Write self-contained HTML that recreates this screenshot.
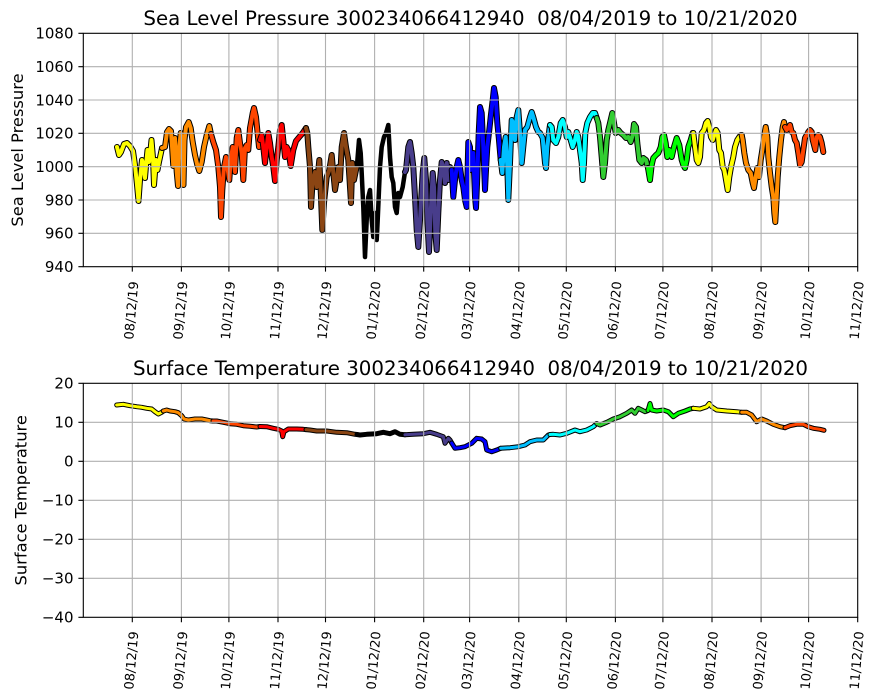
<!DOCTYPE html>
<html><head><meta charset="utf-8"><style>
html,body{margin:0;padding:0;background:#fff;}
svg{display:block;}
text{font-family:"DejaVu Sans","Liberation Sans",sans-serif;fill:#000;}
</style></head><body>
<svg width="876" height="700" viewBox="0 0 876 700" xmlns="http://www.w3.org/2000/svg">
<rect width="876" height="700" fill="#fff"/>

<!-- ===== TOP DATA: Sea Level Pressure ===== -->
<g fill="none" stroke-linejoin="round" stroke-linecap="round">
<polyline stroke="#000" stroke-width="6" points="117,147 119,155 121,152 124,144 127,143 130,146 133,151 135,165 137,185 138.5,201 140,180 142,160 143.5,165 145,178 146.5,160 147.5,150 149,162 150.5,150 151.5,140 153,158 154,185 156,160 157.5,170 159,162 160.5,155 162,148"/>
<polyline stroke="#ffff00" stroke-width="4" points="117,147 119,155 121,152 124,144 127,143 130,146 133,151 135,165 137,185 138.5,201 140,180 142,160 143.5,165 145,178 146.5,160 147.5,150 149,162 150.5,150 151.5,140 153,158 154,185 156,160 157.5,170 159,162 160.5,155 162,148"/>
<polyline stroke="#000" stroke-width="6" points="162,148 165,147 167,132 169,129 171,131 172,146 173.3,166 175,138 176.7,172 178,186 179.3,147 180.7,133 182.7,148 183.5,185 184.5,140 186,127 188.7,122 190.7,128 192.7,142 195,155 197.3,165 199.3,171 201.7,162 204,147 206.7,135 209.3,126 211,134"/>
<polyline stroke="#ff8c00" stroke-width="4" points="162,148 165,147 167,132 169,129 171,131 172,146 173.3,166 175,138 176.7,172 178,186 179.3,147 180.7,133 182.7,148 183.5,185 184.5,140 186,127 188.7,122 190.7,128 192.7,142 195,155 197.3,165 199.3,171 201.7,162 204,147 206.7,135 209.3,126 211,134"/>
<polyline stroke="#000" stroke-width="6" points="211,134 213.3,142 216,150 218.3,167 220,187 221,217 222.3,190 224,167 226,157 227.3,167 229.3,180 230.7,160 232.7,147 235,172 236.7,138 238.3,130 240,143 241.7,153 243.3,180 245,148 246.7,145 248.3,150 250,128 252.7,113 254,108 256,117 257.3,130 259,147 260,140"/>
<polyline stroke="#ff4500" stroke-width="4" points="211,134 213.3,142 216,150 218.3,167 220,187 221,217 222.3,190 224,167 226,157 227.3,167 229.3,180 230.7,160 232.7,147 235,172 236.7,138 238.3,130 240,143 241.7,153 243.3,180 245,148 246.7,145 248.3,150 250,128 252.7,113 254,108 256,117 257.3,130 259,147 260,140"/>
<polyline stroke="#000" stroke-width="6" points="260,140 261.7,135 263.3,147 265,163 266.7,147 268.3,133 270,143 271.7,157 273.3,167 275,181 276.7,160 278.3,147 280,130 281.7,125 283.3,140 285,157 286.7,147 288.3,150 290.7,166 293.3,150 296,141 299.3,137 302.7,133 306,128"/>
<polyline stroke="#ff0000" stroke-width="4" points="260,140 261.7,135 263.3,147 265,163 266.7,147 268.3,133 270,143 271.7,157 273.3,167 275,181 276.7,160 278.3,147 280,130 281.7,125 283.3,140 285,157 286.7,147 288.3,150 290.7,166 293.3,150 296,141 299.3,137 302.7,133 306,128"/>
<polyline stroke="#000" stroke-width="6" points="306,128 307.3,133 308.3,147 310,167 311,207 312.7,180 315,172 316.7,187 319.3,160 321,197 322.3,230 324,203 326.7,177 329.3,170 331.7,155 333.3,173 335,190 336.7,180 338.3,167 340,180 341.7,147 344,133 346,147 348.3,160 350,187 351,203 352.3,163 354,180 356,170 357,165"/>
<polyline stroke="#8b4513" stroke-width="4" points="306,128 307.3,133 308.3,147 310,167 311,207 312.7,180 315,172 316.7,187 319.3,160 321,197 322.3,230 324,203 326.7,177 329.3,170 331.7,155 333.3,173 335,190 336.7,180 338.3,167 340,180 341.7,147 344,133 346,147 348.3,160 350,187 351,203 352.3,163 354,180 356,170 357,165"/>
<polyline stroke="#000" stroke-width="4.5" points="357,165 359,140 360.7,153 361.7,173 363.3,207 365,257 366.7,220 368.3,197 370,190 371.7,220 373.3,237 375,213 376.7,240 377.7,220 379,190 380,167 381.7,147 384,137 386,133 388.3,125 390,157 391.7,177 393.3,183 395,207 396.7,213 398.3,193 400,197 402.7,187 405,172"/>
<polyline stroke="#000" stroke-width="6" points="405,172 406,170 408.3,147 410,142 411.7,153 413.3,167 415,197 416.7,230 418.3,247 420,220 422.7,173 424.3,158 426,180 427.3,220 429,252 430.7,213 432.7,173 434,187 435.3,233 436.7,250 438.3,213 440,180 441.7,162 443.3,167 445,183 446.7,163 448.3,180 450,167 451.7,170"/>
<polyline stroke="#483d8b" stroke-width="4" points="405,172 406,170 408.3,147 410,142 411.7,153 413.3,167 415,197 416.7,230 418.3,247 420,220 422.7,173 424.3,158 426,180 427.3,220 429,252 430.7,213 432.7,173 434,187 435.3,233 436.7,250 438.3,213 440,180 441.7,162 443.3,167 445,183 446.7,163 448.3,180 450,167 451.7,170"/>
<polyline stroke="#000" stroke-width="6" points="451.7,170 453.3,197 455,180 456.7,167 458.3,160 460,167 461.7,180 463.3,187 465,200 466.7,207 468.3,142 470,147 470.7,170 471.7,167 473.3,153 475,197 476,208 477.3,177 478.7,133 480,107 481.7,113 483.3,147 485,190 486,170 487.3,147 489.3,130 490.7,117 492.7,100 494,88 495.7,97 497.3,123 498.7,137 500.7,160"/>
<polyline stroke="#0000ff" stroke-width="4" points="451.7,170 453.3,197 455,180 456.7,167 458.3,160 460,167 461.7,180 463.3,187 465,200 466.7,207 468.3,142 470,147 470.7,170 471.7,167 473.3,153 475,197 476,208 477.3,177 478.7,133 480,107 481.7,113 483.3,147 485,190 486,170 487.3,147 489.3,130 490.7,117 492.7,100 494,88 495.7,97 497.3,123 498.7,137 500.7,160"/>
<polyline stroke="#000" stroke-width="6" points="500.7,160 502.3,173 504,147 505.7,137 507.3,167 508.3,200 510,163 511.7,120 513.3,123 515,140 516.7,117 518.3,110 520,133 521.7,163 523.3,147 525,130 527.3,127 530,117 531.7,112 533.3,117 536,127 538.3,132 540,133 542.7,138 545,163 546,168 547.3,147 549.3,130 550,125"/>
<polyline stroke="#00bfff" stroke-width="4" points="500.7,160 502.3,173 504,147 505.7,137 507.3,167 508.3,200 510,163 511.7,120 513.3,123 515,140 516.7,117 518.3,110 520,133 521.7,163 523.3,147 525,130 527.3,127 530,117 531.7,112 533.3,117 536,127 538.3,132 540,133 542.7,138 545,163 546,168 547.3,147 549.3,130 550,125"/>
<polyline stroke="#000" stroke-width="6" points="550,125 551.7,127 553.3,140 556,143 558.3,137 560.7,123 562.7,120 565,127 566.7,137 568.3,132 570.7,140 572.7,147 575,140 576.7,132 578.3,137 580,150 581.7,163 582.7,180 584,163 585.3,133 587.3,123 590,117 592.7,113 595,113 596.7,118"/>
<polyline stroke="#00ffff" stroke-width="4" points="550,125 551.7,127 553.3,140 556,143 558.3,137 560.7,123 562.7,120 565,127 566.7,137 568.3,132 570.7,140 572.7,147 575,140 576.7,132 578.3,137 580,150 581.7,163 582.7,180 584,163 585.3,133 587.3,123 590,117 592.7,113 595,113 596.7,118"/>
<polyline stroke="#000" stroke-width="6" points="596.7,118 598.3,123 600,137 601.7,157 603.3,177 605,163 606.7,140 608.3,130 610,123 612.3,113 614,123 615.7,133 618.3,130 620.7,133 623.3,135 626,138 628.3,137 630.7,142 632.7,135 634,124 636,127 637.3,143 639.3,160 641.7,163 643.3,158 646,160 648,168"/>
<polyline stroke="#32cd32" stroke-width="4" points="596.7,118 598.3,123 600,137 601.7,157 603.3,177 605,163 606.7,140 608.3,130 610,123 612.3,113 614,123 615.7,133 618.3,130 620.7,133 623.3,135 626,138 628.3,137 630.7,142 632.7,135 634,124 636,127 637.3,143 639.3,160 641.7,163 643.3,158 646,160 648,168"/>
<polyline stroke="#000" stroke-width="6" points="648,168 650,180 651.7,165 653.3,158 656,155 658.3,153 660.7,147 662.3,137 664,135 665.7,143 667.3,157 669.3,150 671.7,157 674,147 676.7,138 679.3,145 681.7,160 683.3,165 685,168 686.7,160 688.3,147 690.7,140 692.7,133 693.3,133"/>
<polyline stroke="#00ff00" stroke-width="4" points="648,168 650,180 651.7,165 653.3,158 656,155 658.3,153 660.7,147 662.3,137 664,135 665.7,143 667.3,157 669.3,150 671.7,157 674,147 676.7,138 679.3,145 681.7,160 683.3,165 685,168 686.7,160 688.3,147 690.7,140 692.7,133 693.3,133"/>
<polyline stroke="#000" stroke-width="6" points="693.3,133 695,147 696.7,160 698.3,163 700,157 701.7,133 704,130 706,123 707.7,121 709.3,127 711,137 712.7,140 714.3,135 716,130 717.7,133 719.3,150 721,153 722.7,167 724.3,170 726,180 727.7,190 729.3,177 731,167 733.3,157 735,147 737.3,140 739.3,137 741,135 741.7,135"/>
<polyline stroke="#ffff00" stroke-width="4" points="693.3,133 695,147 696.7,160 698.3,163 700,157 701.7,133 704,130 706,123 707.7,121 709.3,127 711,137 712.7,140 714.3,135 716,130 717.7,133 719.3,150 721,153 722.7,167 724.3,170 726,180 727.7,190 729.3,177 731,167 733.3,157 735,147 737.3,140 739.3,137 741,135 741.7,135"/>
<polyline stroke="#000" stroke-width="6" points="741.7,135 742.7,140 744.3,153 746,163 748.3,170 750.7,173 752.7,183 754,188 755.7,177 757.3,168 759,177 760.7,160 762.3,150 764,137 765.7,127 767.3,137 768.3,157 770,173 771.7,187 773.3,197 774.3,213 775.3,222 776.7,197 777.7,177 779.3,157 781,140 782.7,127 784,122 785,127"/>
<polyline stroke="#ff8c00" stroke-width="4" points="741.7,135 742.7,140 744.3,153 746,163 748.3,170 750.7,173 752.7,183 754,188 755.7,177 757.3,168 759,177 760.7,160 762.3,150 764,137 765.7,127 767.3,137 768.3,157 770,173 771.7,187 773.3,197 774.3,213 775.3,222 776.7,197 777.7,177 779.3,157 781,140 782.7,127 784,122 785,127"/>
<polyline stroke="#000" stroke-width="6" points="785,127 786.7,130 788.3,128 790,125 791.7,132 793.3,133 795,140 796.7,143 798.3,153 800,165 801.7,162 803.3,150 805,138 806.7,135 808.3,132 810,130 811.7,132 812.7,140 814,145 815.3,150 816.7,137 818.3,135 820,137 821.7,143 823.3,152"/>
<polyline stroke="#ff4500" stroke-width="4" points="785,127 786.7,130 788.3,128 790,125 791.7,132 793.3,133 795,140 796.7,143 798.3,153 800,165 801.7,162 803.3,150 805,138 806.7,135 808.3,132 810,130 811.7,132 812.7,140 814,145 815.3,150 816.7,137 818.3,135 820,137 821.7,143 823.3,152"/>
</g>

<!-- ===== BOTTOM DATA: Surface Temperature ===== -->
<g fill="none" stroke-linejoin="round" stroke-linecap="round">
<polyline stroke="#000" stroke-width="5" points="116.7,405 123.3,404.3 130,405.7 136.7,406.7 141.7,407.3 146.7,408.3 151.7,409 155,411.7 158.3,414 161.7,412.3 163.3,411"/>
<polyline stroke="#ffff00" stroke-width="3" points="116.7,405 123.3,404.3 130,405.7 136.7,406.7 141.7,407.3 146.7,408.3 151.7,409 155,411.7 158.3,414 161.7,412.3 163.3,411"/>
<polyline stroke="#000" stroke-width="5" points="163.3,411 166.7,410 170,411 175,411.7 178.3,412.7 181.7,415.7 184,419 188.3,420 195,419 201.7,419 206.7,420 210,420.7 213,421"/>
<polyline stroke="#ff8c00" stroke-width="3" points="163.3,411 166.7,410 170,411 175,411.7 178.3,412.7 181.7,415.7 184,419 188.3,420 195,419 201.7,419 206.7,420 210,420.7 213,421"/>
<polyline stroke="#000" stroke-width="5" points="213,421 216.7,421 223.3,422.3 230,423.7 236.7,424.3 243.3,425.7 250,426.3 256.7,427 260,426.5"/>
<polyline stroke="#ff4500" stroke-width="3" points="213,421 216.7,421 223.3,422.3 230,423.7 236.7,424.3 243.3,425.7 250,426.3 256.7,427 260,426.5"/>
<polyline stroke="#000" stroke-width="5" points="260,426.5 266.7,426.7 273.3,428.3 278.3,429.3 281.7,431 282.7,436.7 284,431.7 288.3,429 296.7,429 303.3,429.3 306,429.6"/>
<polyline stroke="#ff0000" stroke-width="3" points="260,426.5 266.7,426.7 273.3,428.3 278.3,429.3 281.7,431 282.7,436.7 284,431.7 288.3,429 296.7,429 303.3,429.3 306,429.6"/>
<polyline stroke="#000" stroke-width="5" points="306,429.6 310,430 316.7,431 326.7,431 336.7,432.3 346.7,432.7 355,434.3 357,434.5"/>
<polyline stroke="#8b4513" stroke-width="3" points="306,429.6 310,430 316.7,431 326.7,431 336.7,432.3 346.7,432.7 355,434.3 357,434.5"/>
<polyline stroke="#000" stroke-width="5" points="357,434.5 360,435 366.7,434.3 376.7,433.7 383.3,432.3 390,433.7 395,431.7 400,434.3 405,434.8"/>
<polyline stroke="#000" stroke-width="5" points="405,434.8 413.3,434.3 423.3,433.7 430,432.3 436.7,434.3 443.3,436.7 445,443.3 448.3,438.3 450,440 451.7,443"/>
<polyline stroke="#483d8b" stroke-width="3" points="405,434.8 413.3,434.3 423.3,433.7 430,432.3 436.7,434.3 443.3,436.7 445,443.3 448.3,438.3 450,440 451.7,443"/>
<polyline stroke="#000" stroke-width="5" points="451.7,443 455,448.3 460,447.7 465,446.7 471.7,443.3 476.7,438.3 481.7,439 485,441.7 486.7,450 491.7,451.7 496.7,450 500.7,448.3"/>
<polyline stroke="#0000ff" stroke-width="3" points="451.7,443 455,448.3 460,447.7 465,446.7 471.7,443.3 476.7,438.3 481.7,439 485,441.7 486.7,450 491.7,451.7 496.7,450 500.7,448.3"/>
<polyline stroke="#000" stroke-width="5" points="500.7,448.3 510,447.7 518.3,446.7 525,445 530,441.7 536.7,440 543.3,440 548.3,435 550,434.5"/>
<polyline stroke="#00bfff" stroke-width="3" points="500.7,448.3 510,447.7 518.3,446.7 525,445 530,441.7 536.7,440 543.3,440 548.3,435 550,434.5"/>
<polyline stroke="#000" stroke-width="5" points="550,434.5 553.3,434.3 560,435 566.7,433.3 575,430 580,431.7 586.7,430 593.3,426.7 596.7,423.5"/>
<polyline stroke="#00ffff" stroke-width="3" points="550,434.5 553.3,434.3 560,435 566.7,433.3 575,430 580,431.7 586.7,430 593.3,426.7 596.7,423.5"/>
<polyline stroke="#000" stroke-width="5" points="596.7,423.5 600,425 606.7,422.3 613.3,419 620,416.7 626.7,413.3 631.7,410 635,413.3 638.3,408.3 641.7,410 645,411.7 648,410.5"/>
<polyline stroke="#32cd32" stroke-width="3" points="596.7,423.5 600,425 606.7,422.3 613.3,419 620,416.7 626.7,413.3 631.7,410 635,413.3 638.3,408.3 641.7,410 645,411.7 648,410.5"/>
<polyline stroke="#000" stroke-width="5" points="648,410.5 650,403.5 651.7,410 656.7,411 663.3,410 668.3,411.7 673.3,416.7 678.3,413.3 685,411 690,409 693.3,408.3"/>
<polyline stroke="#00ff00" stroke-width="3" points="648,410.5 650,403.5 651.7,410 656.7,411 663.3,410 668.3,411.7 673.3,416.7 678.3,413.3 685,411 690,409 693.3,408.3"/>
<polyline stroke="#000" stroke-width="5" points="693.3,408.3 700,409 706.7,406.7 709.3,403.5 711.7,406.7 716.7,410 726.7,411 736.7,411.7 741.7,412.3"/>
<polyline stroke="#ffff00" stroke-width="3" points="693.3,408.3 700,409 706.7,406.7 709.3,403.5 711.7,406.7 716.7,410 726.7,411 736.7,411.7 741.7,412.3"/>
<polyline stroke="#000" stroke-width="5" points="741.7,412.3 746.7,412.3 751.7,415 756.7,421.7 761.7,419 766.7,421 773.3,424.3 780,426.7 785,427.7"/>
<polyline stroke="#ff8c00" stroke-width="3" points="741.7,412.3 746.7,412.3 751.7,415 756.7,421.7 761.7,419 766.7,421 773.3,424.3 780,426.7 785,427.7"/>
<polyline stroke="#000" stroke-width="5" points="785,427.7 790,425.7 796.7,424.3 803.3,424.3 808.3,426.7 813.3,428.3 820,429.3 824,430.3"/>
<polyline stroke="#ff4500" stroke-width="3" points="785,427.7 790,425.7 796.7,424.3 803.3,424.3 808.3,426.7 813.3,428.3 820,429.3 824,430.3"/>
</g>

<!-- ===== GRID ===== -->
<g stroke="#b0b0b0" stroke-width="1.1" fill="none">
<path d="M132.3 33.3V266.7M181.4 33.3V266.7M228.9 33.3V266.7M278 33.3V266.7M325.5 33.3V266.7M374.6 33.3V266.7M423.7 33.3V266.7M469.6 33.3V266.7M518.8 33.3V266.7M566.3 33.3V266.7M615.4 33.3V266.7M662.9 33.3V266.7M712 33.3V266.7M761.1 33.3V266.7M808.6 33.3V266.7"/>
<path d="M83.3 66.7H857.7M83.3 100H857.7M83.3 133.3H857.7M83.3 166.7H857.7M83.3 200H857.7M83.3 233.3H857.7"/>
<path d="M132.3 383.3V617.3M181.4 383.3V617.3M228.9 383.3V617.3M278 383.3V617.3M325.5 383.3V617.3M374.6 383.3V617.3M423.7 383.3V617.3M469.6 383.3V617.3M518.8 383.3V617.3M566.3 383.3V617.3M615.4 383.3V617.3M662.9 383.3V617.3M712 383.3V617.3M761.1 383.3V617.3M808.6 383.3V617.3"/>
<path d="M83.3 422.3H857.7M83.3 461.3H857.7M83.3 500.3H857.7M83.3 539.3H857.7M83.3 578.3H857.7"/>
</g>

<!-- ===== SPINES & TICKS ===== -->
<g stroke="#000" stroke-width="1.1" fill="none">
<rect x="83.3" y="33.3" width="774.4" height="233.4"/>
<rect x="83.3" y="383.3" width="774.4" height="234"/>
<path d="M78.4 33.3H83.3M78.4 66.7H83.3M78.4 100H83.3M78.4 133.3H83.3M78.4 166.7H83.3M78.4 200H83.3M78.4 233.3H83.3M78.4 266.7H83.3"/>
<path d="M78.4 383.3H83.3M78.4 422.3H83.3M78.4 461.3H83.3M78.4 500.3H83.3M78.4 539.3H83.3M78.4 578.3H83.3M78.4 617.3H83.3"/>
<path d="M132.3 266.7V271.6M181.4 266.7V271.6M228.9 266.7V271.6M278 266.7V271.6M325.5 266.7V271.6M374.6 266.7V271.6M423.7 266.7V271.6M469.6 266.7V271.6M518.8 266.7V271.6M566.3 266.7V271.6M615.4 266.7V271.6M662.9 266.7V271.6M712 266.7V271.6M761.1 266.7V271.6M808.6 266.7V271.6M857.7 266.7V271.6"/>
<path d="M132.3 617.3V622.2M181.4 617.3V622.2M228.9 617.3V622.2M278 617.3V622.2M325.5 617.3V622.2M374.6 617.3V622.2M423.7 617.3V622.2M469.6 617.3V622.2M518.8 617.3V622.2M566.3 617.3V622.2M615.4 617.3V622.2M662.9 617.3V622.2M712 617.3V622.2M761.1 617.3V622.2M808.6 617.3V622.2M857.7 617.3V622.2"/>
</g>

<!-- ===== TITLES ===== -->
<text x="470.5" y="25" font-size="19.8" text-anchor="middle" xml:space="preserve">Sea Level Pressure 300234066412940  08/04/2019 to 10/21/2020</text>
<text x="470.5" y="375" font-size="19.8" text-anchor="middle" xml:space="preserve">Surface Temperature 300234066412940  08/04/2019 to 10/21/2020</text>

<!-- ===== Y LABELS ===== -->
<text transform="translate(23,150) rotate(-90)" font-size="16.3" text-anchor="middle">Sea Level Pressure</text>
<text transform="translate(26.5,500.3) rotate(-90)" font-size="16.3" text-anchor="middle">Surface Temperature</text>

<!-- ===== Y TICK LABELS ===== -->
<g font-size="15" text-anchor="end">
<text x="73.5" y="38.7">1080</text>
<text x="73.5" y="72.1">1060</text>
<text x="73.5" y="105.4">1040</text>
<text x="73.5" y="138.7">1020</text>
<text x="73.5" y="172.1">1000</text>
<text x="73.5" y="205.4">980</text>
<text x="73.5" y="238.7">960</text>
<text x="73.5" y="272.1">940</text>
<text x="73.5" y="388.7">20</text>
<text x="73.5" y="427.7">10</text>
<text x="73.5" y="466.7">0</text>
<text x="73.5" y="505.7">−10</text>
<text x="73.5" y="544.7">−20</text>
<text x="73.5" y="583.7">−30</text>
<text x="73.5" y="622.7">−40</text>
</g>

<!-- ===== X TICK LABELS (top) ===== -->
<g font-size="13" text-anchor="middle" dominant-baseline="central">
<text transform="translate(132.3,310.5) rotate(-85)">08/12/19</text>
<text transform="translate(181.4,310.5) rotate(-85)">09/12/19</text>
<text transform="translate(228.9,310.5) rotate(-85)">10/12/19</text>
<text transform="translate(278,310.5) rotate(-85)">11/12/19</text>
<text transform="translate(325.5,310.5) rotate(-85)">12/12/19</text>
<text transform="translate(374.6,310.5) rotate(-85)">01/12/20</text>
<text transform="translate(423.7,310.5) rotate(-85)">02/12/20</text>
<text transform="translate(469.6,310.5) rotate(-85)">03/12/20</text>
<text transform="translate(518.8,310.5) rotate(-85)">04/12/20</text>
<text transform="translate(566.3,310.5) rotate(-85)">05/12/20</text>
<text transform="translate(615.4,310.5) rotate(-85)">06/12/20</text>
<text transform="translate(662.9,310.5) rotate(-85)">07/12/20</text>
<text transform="translate(712,310.5) rotate(-85)">08/12/20</text>
<text transform="translate(761.1,310.5) rotate(-85)">09/12/20</text>
<text transform="translate(808.6,310.5) rotate(-85)">10/12/20</text>
<text transform="translate(857.7,310.5) rotate(-85)">11/12/20</text>
</g>
<!-- ===== X TICK LABELS (bottom) ===== -->
<g font-size="13" text-anchor="middle" dominant-baseline="central">
<text transform="translate(132.3,660.5) rotate(-85)">08/12/19</text>
<text transform="translate(181.4,660.5) rotate(-85)">09/12/19</text>
<text transform="translate(228.9,660.5) rotate(-85)">10/12/19</text>
<text transform="translate(278,660.5) rotate(-85)">11/12/19</text>
<text transform="translate(325.5,660.5) rotate(-85)">12/12/19</text>
<text transform="translate(374.6,660.5) rotate(-85)">01/12/20</text>
<text transform="translate(423.7,660.5) rotate(-85)">02/12/20</text>
<text transform="translate(469.6,660.5) rotate(-85)">03/12/20</text>
<text transform="translate(518.8,660.5) rotate(-85)">04/12/20</text>
<text transform="translate(566.3,660.5) rotate(-85)">05/12/20</text>
<text transform="translate(615.4,660.5) rotate(-85)">06/12/20</text>
<text transform="translate(662.9,660.5) rotate(-85)">07/12/20</text>
<text transform="translate(712,660.5) rotate(-85)">08/12/20</text>
<text transform="translate(761.1,660.5) rotate(-85)">09/12/20</text>
<text transform="translate(808.6,660.5) rotate(-85)">10/12/20</text>
<text transform="translate(857.7,660.5) rotate(-85)">11/12/20</text>
</g>
</svg>
</body></html>
